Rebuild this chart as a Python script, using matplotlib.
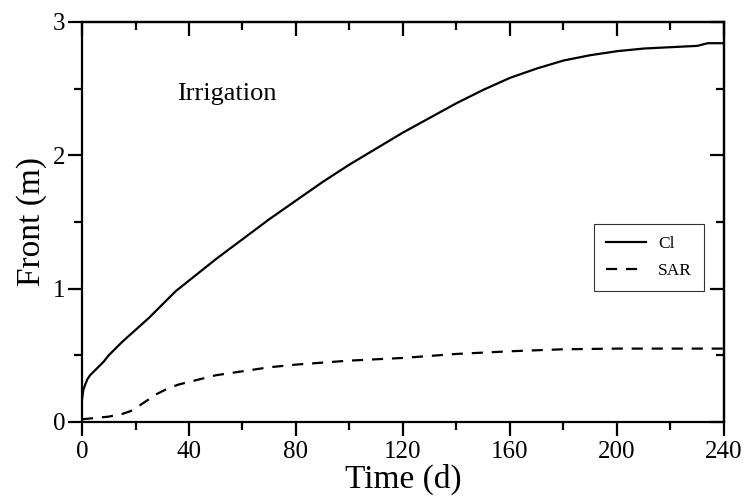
import numpy as np
import matplotlib.pyplot as plt
from matplotlib.ticker import MultipleLocator

plt.rcParams['font.family'] = ['Liberation Serif', 'DejaVu Serif']

# Advance of the fronts under irrigation
t_ci = [0, 0.5, 1, 2, 3, 5, 8, 10, 12, 15, 20, 25, 30, 35, 40, 50, 60, 70, 80,
        90, 100, 110, 120, 130, 140, 150, 160, 170, 180, 190, 200, 210, 220, 230, 234, 240]
front_ci = [0.17, 0.24, 0.27, 0.32, 0.35, 0.39, 0.45, 0.5, 0.54, 0.6, 0.69, 0.78, 0.88, 0.98, 1.06,
            1.22, 1.37, 1.52, 1.66, 1.8, 1.93, 2.05, 2.17, 2.28, 2.39, 2.49, 2.58, 2.65, 2.71, 2.75,
            2.78, 2.8, 2.81, 2.82, 2.84, 2.84]

t_sar = [0, 5, 10, 15, 18, 20, 22, 25, 28, 32, 36, 40, 50, 60, 70, 80, 100, 120, 140, 160,
         180, 200, 220, 240]
front_sar = [0.02, 0.03, 0.04, 0.06, 0.08, 0.1, 0.13, 0.17, 0.21, 0.25, 0.28, 0.3, 0.35, 0.38, 0.41,
             0.43, 0.46, 0.48, 0.51, 0.53, 0.545, 0.55, 0.55, 0.55]

fig = plt.figure(figsize=(7.49, 4.97), dpi=100)
ax = fig.add_axes([0.1095, 0.151, 0.857, 0.805])

ax.plot(t_ci, front_ci, color='black', lw=1.6, label='Cl')
ax.plot(t_sar, front_sar, color='black', lw=1.6, ls=(0, (5, 4)), label='SAR')

ax.set_xlim(0, 240)
ax.set_ylim(0, 3)
ax.xaxis.set_major_locator(MultipleLocator(40))
ax.xaxis.set_minor_locator(MultipleLocator(20))
ax.yaxis.set_major_locator(MultipleLocator(1))
ax.yaxis.set_minor_locator(MultipleLocator(0.5))

for s in ax.spines.values():
    s.set_linewidth(1.6)

ax.tick_params(which='both', direction='out', top=False, right=False, width=1.6,
               labelsize=18)
ax.tick_params(which='major', length=10)
ax.tick_params(which='minor', length=5.5)
ax.tick_params(axis='x', which='major', pad=4)
ax.tick_params(axis='y', which='major', pad=2)

# inward ticks on the top and right edges
ax_top = ax.secondary_xaxis('top')
ax_top.xaxis.set_major_locator(MultipleLocator(40))
ax_top.xaxis.set_minor_locator(MultipleLocator(20))
ax_top.tick_params(which='both', direction='in', width=1.6, labeltop=False)
ax_top.tick_params(which='major', length=10)
ax_top.tick_params(which='minor', length=5.5)
ax_top.spines['top'].set_linewidth(1.6)

ax_right = ax.secondary_yaxis('right')
ax_right.yaxis.set_major_locator(MultipleLocator(1))
ax_right.yaxis.set_minor_locator(MultipleLocator(0.5))
ax_right.tick_params(which='both', direction='in', width=1.6, labelright=False)
ax_right.tick_params(which='major', length=10)
ax_right.tick_params(which='minor', length=5.5)
ax_right.spines['right'].set_linewidth(1.6)

ax.set_xlabel('Time (d)', fontsize=24, labelpad=0)
ax.set_ylabel('Front (m)', fontsize=24, labelpad=4)

ax.text(0.148, 0.82, 'Irrigation', transform=ax.transAxes, fontsize=19, va='center')

leg = ax.legend(loc='upper left', bbox_to_anchor=(0.797, 0.495), fontsize=12.5,
                frameon=True, fancybox=False, handlelength=2.3, handletextpad=0.7,
                borderpad=0.7, labelspacing=0.6, borderaxespad=0)
leg.get_frame().set_edgecolor('black')
leg.get_frame().set_linewidth(0.8)

fig.savefig('out.png', dpi=100)
